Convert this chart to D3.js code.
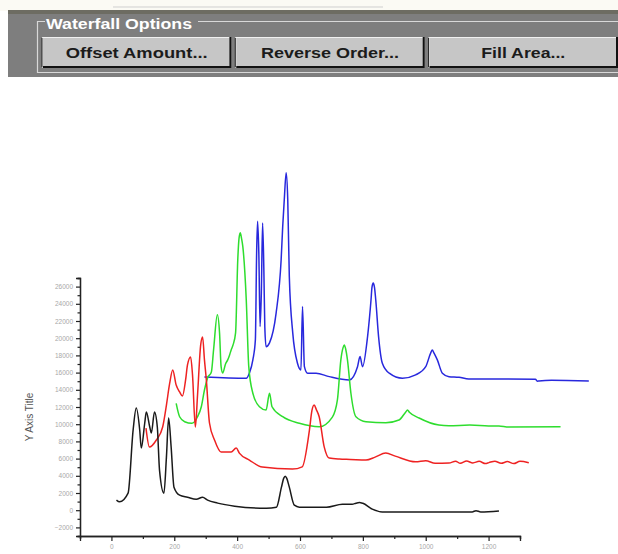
<!DOCTYPE html>
<html><head><meta charset="utf-8">
<script src="https://cdn.jsdelivr.net/npm/d3@7"></script>
<style>body{margin:0;background:#fff}svg{display:block}</style>
</head><body>
<svg id="c" width="618" height="554"></svg>
<script>
// ---- data (x in data units, y in data units, as displayed with waterfall offsets) ----
const seriesNames = ["Black", "Red", "Green", "Blue"];
const seriesColors = ["#1a1a1a", "#ee2222", "#2edd2e", "#2828dd"];

const blackX = [16,26,53,69,79,90,95,106,111,122,127,137,146,153,167,175,182,190,199,217,242,270,290,306,338,392,493,525,541,548,553,558,566,582,598,684,735,766,778,789,800,830,862,1148,1160,1175,1233];
const blackY = [1170,970,1980,9320,11880,9320,7220,10140,11420,9670,8970,11420,9670,4660,1980,6170,10720,7340,2680,1750,1510,1280,1510,1170,820,470,230,350,2680,3700,3960,3700,2680,580,350,350,700,700,820,900,800,120,-200,-200,-50,-200,-80];

const redX = [110,121,143,163,175,185,195,206,217,226,236,242,252,258,267,274,284,290,296,302,312,328,349,381,397,407,439,480,576,607,630,638,645,652,661,677,693,725,760,810,839,873,903,968,1000,1030,1074,1095,1110,1130,1150,1170,1190,1201,1220,1240,1260,1280,1300,1328];
const redY = [9550,7340,8160,9670,12230,14680,16310,14560,13750,13280,15150,16890,17820,15730,9670,13400,19220,20150,17480,15150,10140,8160,6760,6760,7220,6640,5830,5010,4780,5040,9320,11600,12230,11700,10870,7370,6060,5940,5900,5830,6170,6640,6290,5630,5750,5450,5480,5700,5450,5720,5500,5680,5420,5530,5700,5460,5650,5420,5680,5510];

const greenX = [206,217,233,256,274,286,296,306,318,325,337,344,349,354,363,370,376,381,387,395,402,406,410,414,418,429,437,450,471,492,503,511,545,598,661,703,719,730,737,741,745,751,762,778,810,873,915,936,942,948,979,1042,1074,1140,1200,1233,1264,1429];
const greenY = [12430,10870,10290,10100,10870,12030,13980,15380,16080,18640,22720,20620,16690,15960,17010,17480,18060,18640,19220,20620,29130,31600,32270,31600,30670,24470,16690,13600,12030,11650,13600,12030,10870,10100,9700,10830,12820,17480,18900,19220,18800,17480,13600,10870,10290,10170,10490,11400,11650,11400,10720,9900,9820,9900,9800,9790,9670,9700];

const blueX = [296,429,439,450,458,462,465,469,473,477,481,485,488,492,503,524,540,545,550,556,561,566,577,592,603,608,614,624,651,693,757,783,791,799,815,826,829,833,837,841,850,862,884,926,968,1000,1016,1021,1026,1037,1053,1074,1106,1137,1349,1355,1360,1400,1519];
const blueY = [15490,15340,15960,17480,19810,29910,33590,29910,21350,25280,33400,27960,21350,19020,19460,22920,29130,33000,36120,39230,36120,27180,20590,17090,16310,23680,16690,15930,15930,15530,15150,16690,17860,16690,20190,24470,25900,26410,25900,24470,20190,17090,15930,15340,15730,16690,18300,18640,18300,17480,15930,15530,15460,15260,15230,15000,15030,15100,15030];

const xTickValues = [0,200,400,600,800,1000,1200];
const yTickValues = [-2000,0,2000,4000,6000,8000,10000,12000,14000,16000,18000,20000,22000,24000,26000];
const buttonLabels = ["Offset Amount...", "Reverse Order...", "Fill Area..."];
const groupTitle = "Waterfall Options";
const yAxisTitle = "Y Axis Title";

// ---- drawing ----
const svg = d3.select("#c");

// toolbar
svg.append("rect").attr("x",0).attr("y",0).attr("width",618).attr("height",11).attr("fill","#fbfaf4");
svg.append("line").attr("x1",113).attr("x2",383).attr("y1",7).attr("y2",7).attr("stroke","#cfcfcf").attr("stroke-width",1);
svg.append("rect").attr("x",8).attr("y",10).attr("width",610).attr("height",67).attr("fill","#7e7e7e");
svg.append("rect").attr("x",8).attr("y",10).attr("width",610).attr("height",4).attr("fill","#6d6c62");
// group box etched border
const gb = svg.append("g").attr("fill","none");
gb.append("path").attr("d","M45,21.5 H37.5 V72.5 H618").attr("stroke","#d8d8d8").attr("stroke-width",1.2);
gb.append("path").attr("d","M198,21.5 H618").attr("stroke","#d8d8d8").attr("stroke-width",1.2);
svg.append("text").attr("x",46).attr("y",29).attr("fill","#ffffff")
  .attr("font-family","Liberation Sans, Arial, sans-serif").attr("font-weight","bold").attr("font-size",14)
  .attr("textLength",146).attr("lengthAdjust","spacingAndGlyphs").text(groupTitle);

const bx = d3.scaleBand().domain(buttonLabels).range([42,618]).paddingInner(0.02);
const labelWidth = {"Offset Amount...":142, "Reverse Order...":138, "Fill Area...":84};
const btn = svg.append("g").selectAll("g").data(buttonLabels).join("g")
  .attr("transform", d => `translate(${bx(d)},37)`);
btn.append("rect").attr("width",bx.bandwidth()).attr("height",31).attr("fill","#c6c6c6");
btn.append("path").attr("d", d => `M0.5,30 V0.5 H${bx.bandwidth()-1}`).attr("stroke","#f0f0f0").attr("fill","none");
btn.append("path").attr("d", d => `M1,30 H${bx.bandwidth()-1} V0`).attr("stroke","#111").attr("stroke-width",2).attr("fill","none");
btn.append("path").attr("d", d => `M0,1 V30`).attr("stroke","#222").attr("stroke-width",1).attr("fill","none");
btn.append("text").attr("x",bx.bandwidth()/2).attr("y",20.5).attr("text-anchor","middle")
  .attr("fill","#1b1b1b").attr("font-family","Liberation Sans, Arial, sans-serif").attr("font-weight","bold").attr("font-size",15)
  .attr("textLength", d => labelWidth[d]).attr("lengthAdjust","spacingAndGlyphs")
  .text(d => d);

// chart scales
const x = d3.scaleLinear().domain([-100,1300]).range([80,520]);
const y = d3.scaleLinear().domain([-3000,27000]).range([536,278]);

// axes
const axisG = svg.append("g");
const xAxis = d3.axisBottom(x).tickValues(xTickValues).tickSize(5).tickPadding(3).tickFormat(d3.format("d"));
const xMinor = d3.axisBottom(x).tickValues(d3.range(-100,1301,200)).tickSize(3).tickFormat("");
const yAxis = d3.axisLeft(y).tickValues(yTickValues).tickSize(4).tickPadding(3).tickFormat(d3.format("d"));
const yMinor = d3.axisLeft(y).tickValues(d3.range(-3000,27001,2000)).tickSize(2.5).tickFormat("");

function styleAxis(g){
  g.select(".domain").attr("stroke","#222").attr("stroke-width",1.3);
  g.selectAll(".tick line").attr("stroke","#222").attr("stroke-width",1.2);
  g.selectAll(".tick text").attr("fill","#a8a8a8").attr("font-size",6.5).attr("font-family","Liberation Sans, Arial, sans-serif");
}
axisG.append("g").attr("transform","translate(0,536)").call(xMinor).call(styleAxis);
axisG.append("g").attr("transform","translate(0,536)").call(xAxis).call(styleAxis);
axisG.append("g").attr("transform","translate(80,0)").call(yMinor).call(styleAxis);
axisG.append("g").attr("transform","translate(80,0)").call(yAxis).call(styleAxis);

svg.append("text").attr("transform","translate(33,417) rotate(-90)").attr("text-anchor","middle")
  .attr("fill","#555").attr("font-size",10).attr("font-family","Liberation Sans, Arial, sans-serif").text(yAxisTitle);

// series
const allSeries = [
  {name: seriesNames[0], xs: blackX, ys: blackY, color: seriesColors[0]},
  {name: seriesNames[1], xs: redX, ys: redY, color: seriesColors[1]},
  {name: seriesNames[2], xs: greenX, ys: greenY, color: seriesColors[2]},
  {name: seriesNames[3], xs: blueX, ys: blueY, color: seriesColors[3]}
];
const line = d3.line().x(d => x(d[0])).y(d => y(d[1])).curve(d3.curveMonotoneX);
svg.append("g").selectAll("path").data(allSeries.slice().reverse()).join("path")
  .attr("d", s => line(s.xs.map((v,i) => [v, s.ys[i]])))
  .attr("fill","none").attr("stroke", s => s.color).attr("stroke-width",1.5)
  .attr("stroke-linejoin","round");
</script>
</body></html>
